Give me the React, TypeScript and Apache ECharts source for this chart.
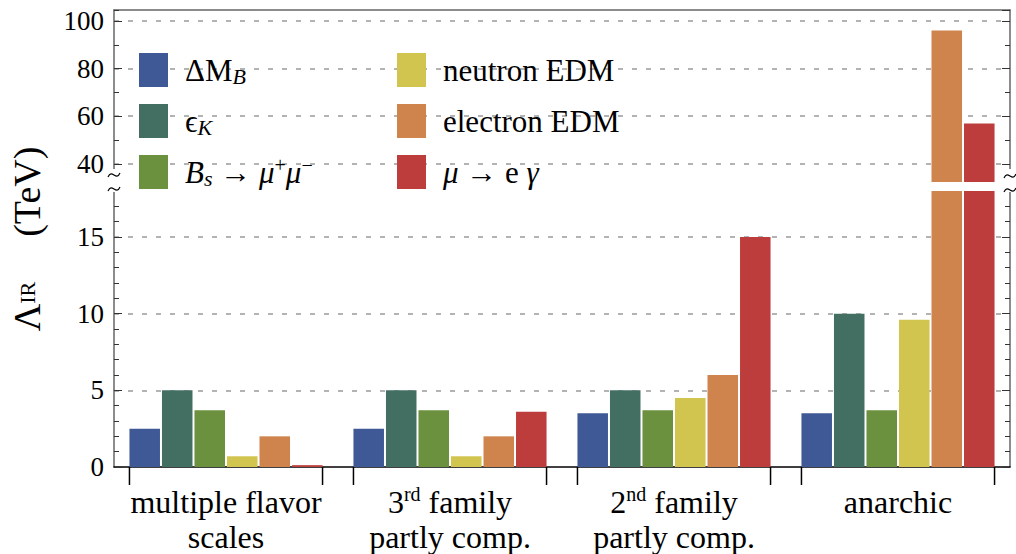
import React, { useEffect, useRef } from 'react';
import * as echarts from 'echarts';

// ---------- data ----------
const categories = ['multiple flavor scales', '3rd family partly comp.', '2nd family partly comp.', 'anarchic'];
const categoryLabels = ['multiple flavor\nscales', '3{sup|rd} family\npartly comp.', '2{sup|nd} family\npartly comp.', 'anarchic'];

const seriesNames = ['ΔM_B', 'ϵ_K', 'B_s → μ+μ−', 'neutron EDM', 'electron EDM', 'μ → e γ'];
const legendLabels = [
  'ΔM{isub|B}',
  'ϵ{isub|K}',
  '{i|B}{isub|s} → {i|μ}{sup|+}{i|μ}{sup|−}',
  'neutron EDM',
  'electron EDM',
  '{i|μ} → e {i|γ}',
];
const colors = ['#3E5996', '#436F63', '#6B913F', '#D1C44F', '#CF844D', '#BD3C3C'];

const deltaMB = [2.5, 2.5, 3.5, 3.5];
const epsilonK = [5, 5, 5, 10];
const bsMuMu = [3.7, 3.7, 3.7, 3.7];
const neutronEDM = [0.7, 0.7, 4.5, 9.6];
const electronEDM = [2.0, 2.0, 6.0, 96];
const muEGamma = [0.12, 3.6, 15, 57];
const seriesValues = [deltaMB, epsilonK, bsMuMu, neutronEDM, electronEDM, muEGamma];

// broken axis ranges
const lowerMin = 0;
const lowerMax = 18;
const upperMin = 32.4;
const upperMax = 104.6;

const FONT = "'Liberation Serif', 'Times New Roman', 'DejaVu Serif', serif";
const CAT_GAP = 0.138;

export default function App() {
  const ref = useRef<HTMLDivElement>(null);

  useEffect(() => {
    const chart = echarts.init(ref.current as HTMLDivElement, undefined, { renderer: 'svg' });

    const axisLineStyle = { color: '#666', width: 1.5 };
    const tickStyle = { color: '#333', width: 1 };
    const split = {
      show: true,
      showMinLine: false,
      showMaxLine: false,
      lineStyle: { color: '#9a9a9a', type: [5, 9], width: 1.5 },
    };
    const majorLabel = {
      show: true,
      fontSize: 27,
      fontFamily: FONT,
      color: '#000',
      margin: 10,
      showMinLabel: false,
      showMaxLabel: false,
    };
    const upperCommon = { gridIndex: 0, type: 'value', min: upperMin, max: upperMax };
    const lowerCommon = { gridIndex: 1, type: 'value', min: lowerMin, max: lowerMax };

    const yAxis: any[] = [
      // upper, left major / minor
      { ...upperCommon, position: 'left', splitNumber: 4, minInterval: 20, maxInterval: 20,
        axisLine: { show: true, lineStyle: axisLineStyle },
        axisTick: { show: true, inside: true, length: 8, lineStyle: tickStyle },
        axisLabel: majorLabel, splitLine: split },
      { ...upperCommon, position: 'left', splitNumber: 8, minInterval: 10, maxInterval: 10,
        axisLine: { show: false }, axisTick: { show: true, inside: true, length: 5, lineStyle: tickStyle },
        axisLabel: { show: false }, splitLine: { show: false } },
      // upper, right major / minor
      { ...upperCommon, position: 'right', splitNumber: 4, minInterval: 20, maxInterval: 20,
        axisLine: { show: true, lineStyle: axisLineStyle },
        axisTick: { show: true, inside: true, length: 8, lineStyle: tickStyle },
        axisLabel: { show: false }, splitLine: { show: false } },
      { ...upperCommon, position: 'right', splitNumber: 8, minInterval: 10, maxInterval: 10,
        axisLine: { show: false }, axisTick: { show: true, inside: true, length: 5, lineStyle: tickStyle },
        axisLabel: { show: false }, splitLine: { show: false } },
      // lower, left major / minor
      { ...lowerCommon, position: 'left', interval: 5,
        axisLine: { show: true, lineStyle: axisLineStyle },
        axisTick: { show: true, inside: true, length: 8, lineStyle: tickStyle },
        axisLabel: { ...majorLabel, showMinLabel: true }, splitLine: split },
      { ...lowerCommon, position: 'left', interval: 1,
        axisLine: { show: false }, axisTick: { show: true, inside: true, length: 5, lineStyle: tickStyle },
        axisLabel: { show: false }, splitLine: { show: false } },
      // lower, right major / minor
      { ...lowerCommon, position: 'right', interval: 5,
        axisLine: { show: true, lineStyle: axisLineStyle },
        axisTick: { show: true, inside: true, length: 8, lineStyle: tickStyle },
        axisLabel: { show: false }, splitLine: { show: false } },
      { ...lowerCommon, position: 'right', interval: 1,
        axisLine: { show: false }, axisTick: { show: true, inside: true, length: 5, lineStyle: tickStyle },
        axisLabel: { show: false }, splitLine: { show: false } },
    ];

    const barCommon = {
      type: 'bar',
      barGap: '6.5%',
      barCategoryGap: (CAT_GAP * 100).toFixed(1) + '%',
      clip: true,
    };

    const series: any[] = [];
    seriesNames.forEach((name, i) => {
      series.push({
        ...barCommon,
        name,
        xAxisIndex: 0,
        yAxisIndex: 0,
        itemStyle: { color: colors[i] },
        data: seriesValues[i].map((v) => (v > upperMin ? v : '-')),
      });
    });
    seriesNames.forEach((name, i) => {
      series.push({
        ...barCommon,
        name,
        xAxisIndex: 1,
        yAxisIndex: 4,
        itemStyle: { color: colors[i] },
        data: seriesValues[i],
      });
    });
    // group ticks below the horizontal axis
    series.push({
      type: 'custom',
      name: 'groupTicks',
      xAxisIndex: 1,
      yAxisIndex: 4,
      z: 10,
      silent: true,
      data: categories.map((_, i) => [i, 0]),
      renderItem: (params: any, api: any) => {
        const p = api.coord([api.value(0), 0]);
        const band = api.size([1, 0])[0];
        const half = (band * (1 - CAT_GAP)) / 2;
        const st = { stroke: '#000', lineWidth: 1.5 };
        return {
          type: 'group',
          children: [
            { type: 'line', shape: { x1: p[0] - half, y1: p[1], x2: p[0] - half, y2: p[1] + 18 }, style: st },
            { type: 'line', shape: { x1: p[0] + half, y1: p[1], x2: p[0] + half, y2: p[1] + 18 }, style: st },
          ],
        };
      },
    });

    const legendRich = {
      i: { fontFamily: FONT, fontSize: 31, fontStyle: 'italic', color: '#000' },
      isub: { fontFamily: FONT, fontSize: 22, fontStyle: 'italic', verticalAlign: 'bottom', lineHeight: 23, color: '#000' },
      sup: { fontFamily: FONT, fontSize: 20, verticalAlign: 'top', lineHeight: 22, color: '#000' },
    };
    const legendCommon = {
      orient: 'vertical',
      top: 53,
      padding: 0,
      z: 200,
      itemWidth: 29,
      itemHeight: 34,
      itemGap: 17,
      icon: 'rect',
      selectedMode: false,
      textStyle: {
        fontFamily: FONT,
        fontSize: 31,
        lineHeight: 34,
        color: '#000',
        padding: [0, 0, 0, 12],
        rich: legendRich,
      },
      formatter: (name: string) => legendLabels[seriesNames.indexOf(name)],
    };

    const squiggle = (cx: number, cy: number) => ({
      type: 'bezierCurve',
      z: 101,
      silent: true,
      shape: { x1: cx - 6, y1: cy + 2, cpx1: cx - 2, cpy1: cy - 7, cpx2: cx + 2, cpy2: cy + 7, x2: cx + 6, y2: cy - 2 },
      style: { stroke: '#000', lineWidth: 1.2, fill: null },
    });

    chart.setOption({
      animation: false,
      grid: [
        { left: 114, right: 6, top: 10, height: 172 },
        { left: 114, right: 6, top: 191, height: 277 },
      ],
      xAxis: [
        { gridIndex: 0, type: 'category', data: categories, position: 'top',
          axisLine: { show: true, lineStyle: axisLineStyle }, axisTick: { show: false }, axisLabel: { show: false },
          splitLine: { show: false } },
        { gridIndex: 1, type: 'category', data: categories, position: 'bottom',
          axisLine: { show: true, lineStyle: { color: '#000', width: 1.5 } }, axisTick: { show: false },
          splitLine: { show: false },
          axisLabel: {
            interval: 0,
            margin: 17,
            fontFamily: FONT,
            fontSize: 32,
            lineHeight: 35,
            color: '#000',
            formatter: (_v: string, idx: number) => categoryLabels[idx],
            rich: { sup: { fontFamily: FONT, fontSize: 20, verticalAlign: 'top', lineHeight: 20, color: '#000' } },
          } },
      ],
      yAxis,
      legend: [
        { ...legendCommon, left: 139, data: seriesNames.slice(0, 3) },
        { ...legendCommon, left: 397, data: seriesNames.slice(3, 6) },
      ],
      series,
      graphic: [
        { type: 'rect', z: 100, silent: true, shape: { x: 440, y: 182, width: 576, height: 9 }, style: { fill: '#fff' } },
        { type: 'rect', z: 100, silent: true, shape: { x: 106, y: 169, width: 16, height: 23 }, style: { fill: '#fff' } },
        { type: 'rect', z: 100, silent: true, shape: { x: 1001, y: 169, width: 15, height: 23 }, style: { fill: '#fff' } },
        squiggle(114, 175),
        squiggle(114, 189),
        squiggle(1010, 176),
        squiggle(1010, 190),
        {
          type: 'text',
          z: 100,
          x: 27,
          y: 239,
          rotation: Math.PI / 2,
          style: {
            text: '{L|Λ}{s|IR}{t|(TeV)}',
            align: 'center',
            verticalAlign: 'middle',
            fill: '#000',
            rich: {
              L: { fontFamily: FONT, fontSize: 38, fill: '#000' },
              s: { fontFamily: FONT, fontSize: 22, fill: '#000' },
              t: { fontFamily: FONT, fontSize: 38, fill: '#000', padding: [0, 0, 0, 45] },
            },
          },
        },
      ],
    });

    return () => chart.dispose();
  }, []);

  return <div ref={ref} style={{ position: 'fixed', left: 0, top: 0, width: 1016, height: 554, background: '#fff' }} />;
}
